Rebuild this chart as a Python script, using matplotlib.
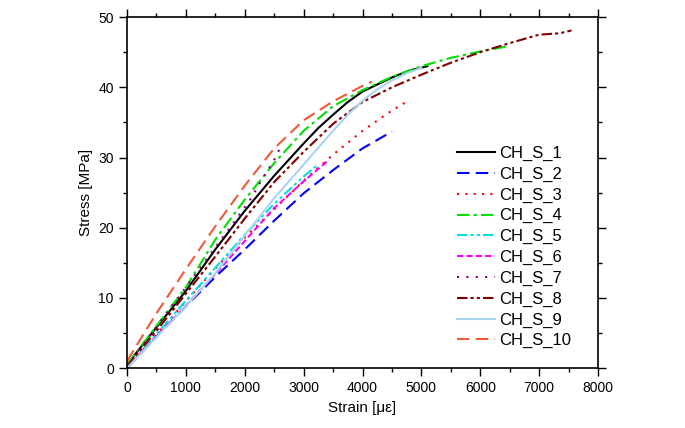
import numpy as np
import matplotlib
matplotlib.use('Agg')
import matplotlib.pyplot as plt
from matplotlib.ticker import MultipleLocator

plt.rcParams['font.family'] = ['Liberation Sans', 'DejaVu Sans']

# 読み取り値 (strain [με], stress [MPa])
names = ['CH_S_1', 'CH_S_2', 'CH_S_3', 'CH_S_4', 'CH_S_5',
         'CH_S_6', 'CH_S_7', 'CH_S_8', 'CH_S_9', 'CH_S_10']

s1_x = [0, 500, 1000, 1500, 2000, 2500, 3000, 3250, 3500, 3750, 4000, 4250, 4500, 4800, 5100]
s1_y = [0.5, 5.8, 11.0, 16.9, 22.4, 27.4, 32.0, 34.2, 36.1, 37.9, 39.4, 40.4, 41.4, 42.4, 43.0]

s2_x = [0, 500, 1000, 1500, 2000, 2500, 3000, 3500, 4000, 4500]
s2_y = [0, 4.5, 8.8, 13.0, 16.9, 21.0, 24.9, 28.2, 31.3, 33.7]

s3_x = [0, 500, 1000, 1500, 2000, 2500, 3000, 3500, 4000, 4500, 4720]
s3_y = [0, 4.8, 9.5, 14.2, 18.6, 22.6, 26.7, 30.4, 33.8, 36.7, 37.8]

s4_x = [0, 500, 1000, 1500, 2000, 2500, 3000, 3500, 4000, 4500, 5000, 5500, 6000, 6500]
s4_y = [0.5, 6.0, 11.5, 18.3, 24.0, 29.2, 33.8, 37.3, 39.6, 41.5, 43.0, 44.2, 45.1, 45.9]

s5_x = [0, 500, 1000, 1500, 2000, 2500, 3000, 3250]
s5_y = [0, 4.8, 9.6, 14.3, 19.0, 23.4, 27.3, 29.0]

s6_x = [0, 500, 1000, 1500, 2000, 2500, 3000, 3420]
s6_y = [0, 4.5, 8.9, 13.4, 18.1, 22.8, 26.6, 29.6]

s7_x = [0, 500, 1000, 1500, 1750, 2078, 2276, 2497, 2590]
s7_y = [0.3, 5.9, 11.5, 17.2, 20.0, 23.8, 26.6, 29.6, 31.2]

s8_x = [0, 500, 1000, 1500, 2000, 2500, 3000, 3500, 4000, 4500, 5000, 5500, 6000, 6500,
        7000, 7350, 7550]
s8_y = [0.3, 5.3, 10.6, 15.9, 21.3, 26.5, 30.8, 34.8, 37.9, 40.0, 41.8, 43.5, 45.0, 46.3,
        47.5, 47.7, 48.1]

s9_x = [0, 500, 1000, 1500, 2000, 2500, 3000, 3500, 3750, 4000, 4250, 4500, 4750, 5000]
s9_y = [0, 4.4, 8.8, 13.5, 18.9, 24.2, 29.0, 33.8, 36.1, 38.1, 39.7, 41.0, 42.0, 42.8]

s10_x = [0, 500, 1000, 1500, 2000, 2500, 3000, 3500, 4000, 4160]
s10_y = [1.0, 7.8, 14.1, 20.2, 26.0, 31.3, 35.3, 38.0, 40.2, 40.8]

xs = [s1_x, s2_x, s3_x, s4_x, s5_x, s6_x, s7_x, s8_x, s9_x, s10_x]
ys = [s1_y, s2_y, s3_y, s4_y, s5_y, s6_y, s7_y, s8_y, s9_y, s10_y]

colors = ['#000000', '#0000ff', '#ff0000', '#00e000', '#00e0e0',
          '#ff00ff', '#800080', '#800000', '#a8d4f0', '#f05a3c']
styles = ['-', (0, (6, 3)), (0, (1, 3)), (0, (6, 2, 1.5, 2)),
          (0, (5, 1.5, 1.5, 1.5, 1.5, 1.5)), (0, (3, 1.5)), (0, (1, 3.5)),
          (0, (5, 1.5, 1.5, 1.5, 1.5, 1.5)), '-', (0, (6, 3))]

fig = plt.figure(figsize=(6.85, 4.28), dpi=100)
ax = fig.add_axes([0.1854, 0.140, 0.6876, 0.820])

for x, y, c, ls, n in zip(xs, ys, colors, styles, names):
    ax.plot(x, y, color=c, linestyle=ls, lw=1.5, label=n)

ax.set_xlim(0, 8000)
ax.set_ylim(0, 50)
ax.xaxis.set_major_locator(MultipleLocator(1000))
ax.xaxis.set_minor_locator(MultipleLocator(500))
ax.yaxis.set_major_locator(MultipleLocator(10))
ax.yaxis.set_minor_locator(MultipleLocator(5))
ax.tick_params(which='both', direction='out', top=True, right=True,
               labeltop=False, labelright=False, labelsize=10, width=1)
ax.tick_params(which='major', length=6)
ax.tick_params(which='minor', length=3)
for sp in ax.spines.values():
    sp.set_linewidth(1.2)

ax.set_xlabel('Strain [με]', fontsize=11)
ax.set_ylabel('Stress [MPa]', fontsize=11)

ax.legend(loc='upper left', bbox_to_anchor=(0.70, 0.633), frameon=False,
          fontsize=12, handlelength=2.3, handletextpad=0.25,
          labelspacing=0.34, borderaxespad=0, borderpad=0)

fig.savefig('out.png', dpi=100)
